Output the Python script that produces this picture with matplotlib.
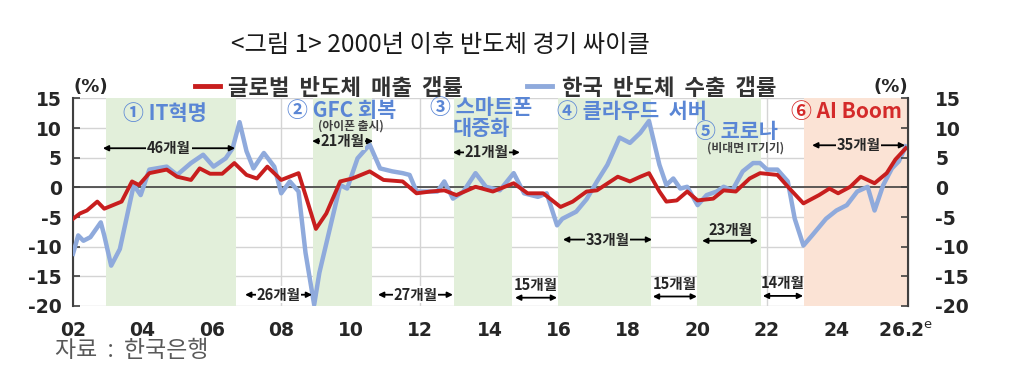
import matplotlib.pyplot as plt

plt.rcParams['font.family'] = ['Noto Sans CJK KR', 'DejaVu Sans']

# 글로벌 반도체 매출 갭률 (%)
glob_t = [2002.0, 2002.2, 2002.4, 2002.7, 2002.9, 2003.15, 2003.4, 2003.7, 2003.9, 2004.2,
          2004.7, 2005.0, 2005.4, 2005.65, 2005.95, 2006.3, 2006.65, 2007.0, 2007.3, 2007.6,
          2008.0, 2008.5, 2008.7, 2009.0, 2009.3, 2009.7, 2010.05, 2010.55, 2010.95, 2011.5,
          2011.9, 2012.3, 2012.7, 2013.05, 2013.6, 2014.1, 2014.7, 2015.1, 2015.55, 2016.05,
          2016.4, 2016.8, 2017.1, 2017.7, 2018.05, 2018.35, 2018.6, 2018.9, 2019.1, 2019.4,
          2019.7, 2020.0, 2020.45, 2020.75, 2021.1, 2021.5, 2021.8, 2022.3, 2022.65, 2023.05,
          2023.5, 2023.8, 2024.05, 2024.4, 2024.7, 2025.1, 2025.45, 2025.7, 2026.0]
glob_v = [-5.3, -4.4, -3.9, -2.4, -3.6, -3.0, -2.4, 1.0, 0.4, 2.4,
          3.0, 1.8, 1.25, 3.2, 2.3, 2.3, 4.1, 2.1, 1.5, 3.5,
          1.25, 2.4, -1.3, -7.0, -4.4, 1.0, 1.5, 2.7, 1.25, 1.0,
          -1.0, -0.7, -0.5, -1.3, 0.1, -0.7, 0.7, -1.0, -1.0, -3.3,
          -2.4, -0.7, -0.5, 1.8, 1.0, 1.8, 2.4, -0.7, -2.4, -2.2,
          -0.7, -2.2, -1.9, -0.5, -0.7, 1.5, 2.4, 2.1, -0.2, -2.7,
          -1.3, -0.2, -1.0, 0.1, 1.8, 0.7, 2.4, 4.7, 6.6]

# 한국 반도체 수출 갭률 (%)
kor_t = [2002.0, 2002.15, 2002.3, 2002.5, 2002.8, 2002.9, 2003.1, 2003.35, 2003.75, 2003.95,
         2004.2, 2004.7, 2005.0, 2005.4, 2005.75, 2006.05, 2006.4, 2006.6, 2006.8, 2007.0,
         2007.2, 2007.5, 2007.8, 2008.0, 2008.25, 2008.5, 2008.7, 2008.95, 2009.1, 2009.4,
         2009.7, 2009.9, 2010.2, 2010.55, 2010.85, 2011.2, 2011.5, 2011.7, 2011.9, 2012.2,
         2012.5, 2012.7, 2012.95, 2013.25, 2013.6, 2013.9, 2014.3, 2014.7, 2015.0, 2015.4,
         2015.65, 2015.95, 2016.1, 2016.5, 2016.8, 2017.1, 2017.4, 2017.75, 2018.05, 2018.35,
         2018.6, 2018.9, 2019.1, 2019.3, 2019.5, 2019.7, 2020.0, 2020.26, 2020.55, 2020.75,
         2021.0, 2021.3, 2021.6, 2021.8, 2022.0, 2022.3, 2022.6, 2022.8, 2023.05, 2023.3,
         2023.7, 2024.0, 2024.3, 2024.6, 2024.9, 2025.1, 2025.35, 2025.6, 2025.8, 2026.0]
kor_v = [-11.2, -8.1, -9.0, -8.4, -5.9, -8.1, -13.2, -10.4, 0.4, -1.3,
         3.0, 3.5, 2.1, 4.1, 5.5, 3.5, 4.9, 6.6, 11.0, 6.1,
         3.2, 5.8, 3.5, -1.0, 1.0, -0.7, -11.0, -19.8, -14.4, -7.0,
         0.4, -0.2, 4.9, 7.2, 3.2, 2.7, 2.4, 2.1, -0.7, -0.7,
         -0.7, 1.0, -1.9, -0.7, 2.4, 0.1, -0.5, 2.4, -1.0, -1.6,
         -1.0, -6.4, -5.3, -4.1, -2.0, 1.0, 3.8, 8.4, 7.5, 9.2,
         11.2, 3.8, 0.4, 1.5, -0.2, 0.1, -3.0, -1.3, -0.7, 0.1,
         -0.5, 2.7, 4.1, 4.1, 3.0, 3.0, 1.0, -5.3, -9.8, -8.1,
         -5.3, -3.9, -3.0, -0.7, 0.1, -3.9, 0.4, 3.2, 4.4, 6.9]

# 반도체 경기 상승 국면 (시작, 끝)
cycle_start = [2002.95, 2008.92, 2012.98, 2015.98, 2019.98, 2023.07]
cycle_end = [2006.70, 2010.62, 2014.65, 2018.66, 2021.83, 2026.05]

# 국면 길이 표시 (시작, 끝, 라벨)
span_start = [2002.86, 2008.89, 2012.95, 2016.12, 2023.30, 2006.96, 2010.79]
span_end = [2006.67, 2010.65, 2014.88, 2018.69, 2025.98, 2008.89, 2012.95]
span_label = ['46개월', '21개월', '21개월', '33개월', '35개월', '26개월', '27개월']

year_ticks = [2002, 2004, 2006, 2008, 2010, 2012, 2014, 2016, 2018, 2020, 2022, 2024, 2026.0]
year_labels = ['02', '04', '06', '08', '10', '12', '14', '16', '18', '20', '22', '24',
               r'26.2$^{\mathrm{e}}$']
y_ticks = [15, 10, 5, 0, -5, -10, -15, -20]

red = '#C81E1E'
blue = '#8FAADC'
ann_blue = '#5A86D5'
green = '#E2EFDA'
peach = '#FBE3D5'
dark = '#262626'
num_font = ['DejaVu Sans']

fig = plt.figure(figsize=(10.14, 3.70), dpi=100)
ax = fig.add_axes([0.072, 0.173, 0.823, 0.561])

for i, (s, e) in enumerate(zip(cycle_start, cycle_end)):
    ax.axvspan(s, e, color=peach if i == 5 else green, lw=0, zorder=1)

ax.axhline(0, color='#404040', lw=1.2, zorder=2)
ax.plot(glob_t, glob_v, color=red, lw=2.8, zorder=4)
ax.plot(kor_t, kor_v, color=blue, lw=3.2, zorder=3)

ax.set_xlim(2002, 2026.05)
ax.set_ylim(-20, 15)
ax.set_axisbelow(True)
ax.grid(color='#D4D4D4', lw=1)
ax.set_xticks(year_ticks)
ax.set_xticklabels(year_labels)
ax.set_yticks(y_ticks)
ax.set_yticklabels([str(v) for v in y_ticks])
ax.tick_params(axis='x', length=0, pad=11, labelsize=13.5, labelcolor=dark)
ax.tick_params(axis='y', direction='in', length=5, width=1.2, color='#404040',
               pad=8, labelsize=13.5, labelcolor=dark)
for lab in ax.get_xticklabels() + ax.get_yticklabels():
    lab.set_fontweight('bold')
    lab.set_family(num_font)
for side in ['top', 'bottom']:
    ax.spines[side].set_visible(False)
ax.spines['left'].set_color('#404040')
ax.spines['left'].set_linewidth(1.5)

ax2 = ax.twinx()
ax2.set_ylim(-20, 15)
ax2.set_yticks(y_ticks)
ax2.set_yticklabels([str(v) for v in y_ticks])
ax2.tick_params(axis='y', direction='in', length=5, width=1.2, color='#404040',
                pad=20, labelsize=13.5, labelcolor=dark)
for lab in ax2.get_yticklabels():
    lab.set_fontweight('bold')
    lab.set_family(num_font)
for side in ['top', 'bottom', 'left']:
    ax2.spines[side].set_visible(False)
ax2.spines['right'].set_color('#404040')
ax2.spines['right'].set_linewidth(1.5)

# 국면 이름
big = dict(color=ann_blue, fontsize=15, fontweight='bold', va='center', zorder=6)
small = dict(color='#404040', fontsize=8.5, fontweight='bold', ha='center', va='center', zorder=6)
ax.text(2004.65, 12.4, '① IT혁명', ha='center', **big)
ax.text(2009.75, 13.0, '② GFC 회복', ha='center', **big)
ax.text(2010.0, 10.4, '(아이폰 출시)', **small)
ax.text(2012.3, 13.4, '③ 스마트폰', ha='left', **big)
ax.text(2012.95, 10.0, '대중화', ha='left', **big)
ax.text(2018.1, 12.8, '④ 클라우드  서버', ha='center', **big)
ax.text(2021.13, 9.5, '⑤ 코로나', ha='center', **big)
ax.text(2021.37, 6.6, '(비대면 IT기기)', **small)
ax.text(2024.3, 12.8, '⑥ AI Boom', color='#D42A2A', fontsize=15, fontweight='bold',
        ha='center', va='center', zorder=6)

# 기간 화살표 (글자 가운데)
span_y = [6.6, 7.8, 5.9, -8.8, 7.1, -18.1, -18.1]
span_bg = [green, green, green, green, peach, 'white', 'white']
for s, e, lab, y, bg in zip(span_start, span_end, span_label, span_y, span_bg):
    ax.annotate('', xy=(s, y), xytext=(e, y),
                arrowprops=dict(arrowstyle='<|-|>', color='black', lw=1.3,
                                mutation_scale=8, shrinkA=0, shrinkB=0), zorder=5)
    ax.text((s + e) / 2, y, lab, fontsize=10.5, fontweight='bold', color=dark,
            ha='center', va='center', zorder=6,
            bbox=dict(facecolor=bg, edgecolor='none', pad=0.5))

# 기간 화살표 (글자 위)
over_start = [2014.74, 2018.71, 2021.88, 2020.13]
over_end = [2015.95, 2019.98, 2023.04, 2021.74]
over_label = ['15개월', '15개월', '14개월', '23개월']
over_ty = [-16.4, -16.3, -16.2, -7.2]
over_ay = [-18.6, -18.4, -18.3, -9.0]
for s, e, lab, ty, ay in zip(over_start, over_end, over_label, over_ty, over_ay):
    ax.annotate('', xy=(s, ay), xytext=(e, ay),
                arrowprops=dict(arrowstyle='<|-|>', color='black', lw=1.3,
                                mutation_scale=8, shrinkA=0, shrinkB=0), zorder=5)
    ax.text((s + e) / 2, ty, lab, fontsize=10.5, fontweight='bold', color=dark,
            ha='center', va='center', zorder=6)

# 제목, 범례, 단위, 출처
fig.text(0.434, 0.878, '<그림 1> 2000년 이후 반도체 경기 싸이클', fontsize=17.5,
         color='#1a1a1a', ha='center', va='center')
fig.add_artist(plt.Line2D([0.192, 0.217], [0.767, 0.767], color=red, lw=3.5))
fig.text(0.225, 0.762, '글로벌  반도체  매출  갭률', fontsize=16, fontweight='bold',
         color='#333333', ha='left', va='center')
fig.add_artist(plt.Line2D([0.520, 0.544], [0.767, 0.767], color=blue, lw=3.5))
fig.text(0.554, 0.762, '한국  반도체  수출  갭률', fontsize=16, fontweight='bold',
         color='#333333', ha='left', va='center')
fig.text(0.090, 0.765, '(%)', fontsize=13, fontweight='bold', color=dark,
         ha='center', va='center', family=num_font)
fig.text(0.879, 0.765, '(%)', fontsize=13, fontweight='bold', color=dark,
         ha='center', va='center', family=num_font)
fig.text(0.054, 0.052, '자료  :  한국은행', fontsize=16.5, color='#595959',
         ha='left', va='center')

fig.savefig('out.png', dpi=100)
